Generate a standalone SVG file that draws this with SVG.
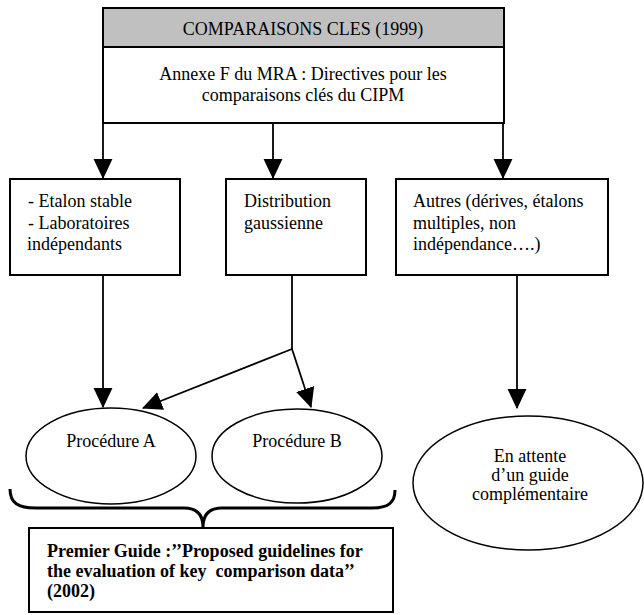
<svg xmlns="http://www.w3.org/2000/svg" width="644" height="615" viewBox="0 0 644 615">
<style>
  .box { fill: #ffffff; stroke: #000000; stroke-width: 2; }
  .hdr { fill: #c0c0c0; stroke: #000000; stroke-width: 2; }
  .ell { fill: #ffffff; stroke: #000000; stroke-width: 1.5; }
  .ln { fill: none; stroke: #000000; stroke-width: 1.8; }
  .brace { fill: none; stroke: #000000; stroke-width: 3; }
  .t { font-family: "Liberation Serif", "Times New Roman", serif; font-size: 18px; fill: #000000; }
  .c { text-anchor: middle; }
  .b { font-weight: bold; }
</style>
<defs>
  <marker id="arr" markerUnits="userSpaceOnUse" markerWidth="20" markerHeight="20" viewBox="0 0 18 17" refX="17" refY="8.5" orient="auto">
    <path d="M0,0 L18,8.5 L0,17 Z" fill="#000000"/>
  </marker>
</defs>

<g id="connectors">
  <line class="ln" x1="103" y1="123" x2="103" y2="178" marker-end="url(#arr)"/>
  <line class="ln" x1="273" y1="123" x2="273" y2="178" marker-end="url(#arr)"/>
  <line class="ln" x1="503" y1="123" x2="503" y2="178" marker-end="url(#arr)"/>
  <line class="ln" x1="103" y1="275" x2="103" y2="407" marker-end="url(#arr)"/>
  <polyline class="ln" points="292,275 292,349"/>
  <line class="ln" x1="292" y1="349" x2="143" y2="408" marker-end="url(#arr)"/>
  <line class="ln" x1="292" y1="349" x2="311" y2="407" marker-end="url(#arr)"/>
  <line class="ln" x1="517" y1="267" x2="517" y2="408" marker-end="url(#arr)"/>
  <path class="brace" d="M10,489 C10,503 18,508 36,508 L184,508 C196,508 203,514 203,527 C203,514 210,508 222,508 L372,508 C388,508 395,503 395,490"/>
</g>

<g id="node-top">
  <rect class="box" x="103" y="8" width="401" height="115"/>
  <rect class="hdr" x="103" y="8" width="401" height="39"/>
  <text class="t c" x="303" y="35">COMPARAISONS CLES (1999)</text>
  <text class="t c" x="303" y="80">Annexe F du MRA : Directives pour les</text>
  <text class="t c" x="303" y="101">comparaisons clés du CIPM</text>
</g>

<g id="node-etalon">
  <rect class="box" x="10" y="179" width="170" height="96"/>
  <text class="t" x="28" y="207">- Etalon stable</text>
  <text class="t" x="28" y="229">- Laboratoires</text>
  <text class="t" x="27" y="250">indépendants</text>
</g>

<g id="node-gauss">
  <rect class="box" x="226" y="179" width="140" height="96"/>
  <text class="t" x="244" y="207">Distribution</text>
  <text class="t" x="244" y="229">gaussienne</text>
</g>

<g id="node-autres">
  <rect class="box" x="396" y="179" width="212" height="96"/>
  <text class="t" x="413" y="207">Autres (dérives, étalons</text>
  <text class="t" x="413" y="229">multiples, non</text>
  <text class="t" x="413" y="250">indépendance….)</text>
</g>

<g id="node-procA">
  <ellipse class="ell" cx="111" cy="456" rx="85" ry="48"/>
  <text class="t c" x="111" y="447">Procédure A</text>
</g>

<g id="node-procB">
  <ellipse class="ell" cx="297" cy="456" rx="85" ry="47"/>
  <text class="t c" x="297" y="447">Procédure B</text>
</g>

<g id="node-attente">
  <ellipse class="ell" cx="528" cy="483" rx="115" ry="67"/>
  <text class="t c" x="530" y="462">En attente</text>
  <text class="t c" x="530" y="481">d’un guide</text>
  <text class="t c" x="530" y="500">complémentaire</text>
</g>

<g id="node-guide">
  <rect class="box" x="29" y="528" width="364" height="84"/>
  <text class="t b" x="47" y="557">Premier Guide :’’Proposed guidelines for</text>
  <text class="t b" x="47" y="577" xml:space="preserve">the evaluation of key  comparison data’’</text>
  <text class="t b" x="47" y="597">(2002)</text>
</g>
</svg>
